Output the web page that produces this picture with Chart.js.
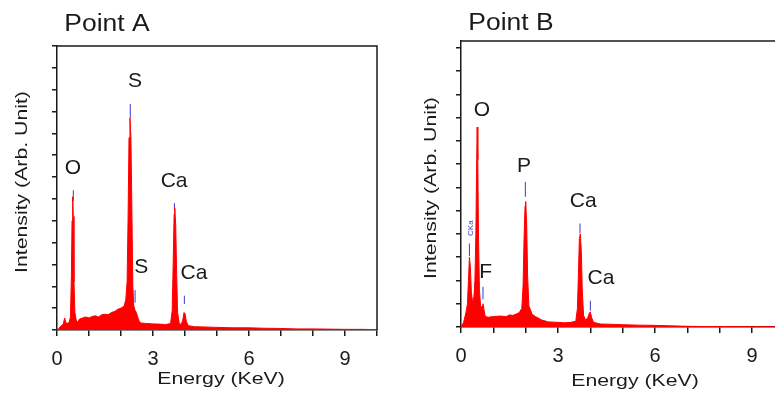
<!DOCTYPE html>
<html>
<head>
<meta charset="utf-8">
<script src="https://cdn.jsdelivr.net/npm/chart.js@4.4.0/dist/chart.umd.min.js"></script>
<style>
  html, body { margin: 0; padding: 0; background: #fff; overflow: hidden; }
  #wrap { position: relative; width: 775px; height: 394px; }
  #chartA { position: absolute; left: 0; top: 0; }
  #chartB { position: absolute; left: 390px; top: 0; }
</style>
</head>
<body>
<div id="wrap">
  <canvas id="chartA" width="390" height="394"></canvas>
  <canvas id="chartB" width="385" height="394"></canvas>
</div>
<script>
// Point A spectrum (energy in keV, intensity in arb. units)
const energyA = [0.00, 0.05, 0.10, 0.15, 0.20, 0.24, 0.27, 0.32, 0.38, 0.42, 0.45, 0.47, 0.49, 0.51, 0.53, 0.56, 0.60, 0.65, 0.70, 0.80, 0.90, 1.00, 1.10, 1.20, 1.30, 1.40, 1.50, 1.60, 1.70, 1.80, 1.90, 2.00, 2.10, 2.15, 2.19, 2.22, 2.25, 2.28, 2.31, 2.34, 2.37, 2.40, 2.44, 2.48, 2.52, 2.57, 2.62, 2.80, 3.00, 3.20, 3.40, 3.55, 3.60, 3.63, 3.66, 3.68, 3.71, 3.74, 3.77, 3.82, 3.88, 3.93, 3.97, 4.00, 4.04, 4.10, 4.30, 4.60, 5.00, 5.50, 6.00, 6.50, 7.00, 7.50, 8.00, 8.50, 9.00, 9.50, 10.00];
const intensityA = [0, 0.05, 0.15, 0.2, 0.3, 0.55, 0.35, 0.3, 0.35, 0.6, 2.5, 5.0, 6.1, 5.2, 2.2, 0.8, 0.45, 0.35, 0.5, 0.55, 0.6, 0.55, 0.62, 0.65, 0.6, 0.7, 0.72, 0.7, 0.8, 0.85, 0.95, 1.0, 1.1, 1.4, 2.2, 5.0, 8.8, 9.7, 8.8, 5.5, 2.0, 1.1, 0.9, 0.8, 0.6, 0.4, 0.32, 0.3, 0.28, 0.27, 0.25, 0.3, 0.9, 3.0, 5.3, 5.6, 4.8, 2.5, 0.8, 0.3, 0.25, 0.45, 0.8, 0.75, 0.4, 0.2, 0.15, 0.14, 0.12, 0.1, 0.1, 0.08, 0.07, 0.05, 0.05, 0.04, 0.03, 0.03, 0.02];

// Point B spectrum
const energyB = [0.00, 0.08, 0.15, 0.20, 0.23, 0.26, 0.29, 0.32, 0.36, 0.40, 0.43, 0.46, 0.48, 0.50, 0.52, 0.54, 0.57, 0.61, 0.65, 0.68, 0.71, 0.75, 0.85, 1.00, 1.20, 1.40, 1.50, 1.60, 1.70, 1.80, 1.88, 1.92, 1.95, 1.98, 2.00, 2.03, 2.06, 2.10, 2.20, 2.30, 2.50, 2.70, 3.00, 3.20, 3.40, 3.55, 3.60, 3.63, 3.66, 3.69, 3.72, 3.75, 3.79, 3.85, 3.92, 3.97, 4.00, 4.04, 4.10, 4.30, 4.60, 5.00, 5.50, 6.00, 6.50, 7.00, 7.50, 8.00, 9.00, 9.75];
const intensityB = [0, 0.2, 0.6, 1.0, 2.0, 3.0, 2.6, 1.5, 1.05, 1.3, 2.0, 4.0, 6.6, 8.6, 7.2, 4.0, 1.6, 0.8, 0.9, 1.0, 0.75, 0.45, 0.42, 0.45, 0.47, 0.45, 0.52, 0.5, 0.55, 0.62, 0.8, 1.8, 3.8, 5.2, 5.4, 4.5, 2.2, 0.9, 0.55, 0.45, 0.3, 0.22, 0.2, 0.18, 0.2, 0.25, 0.8, 2.2, 3.8, 4.0, 3.3, 1.6, 0.5, 0.3, 0.4, 0.6, 0.65, 0.4, 0.2, 0.13, 0.12, 0.1, 0.08, 0.07, 0.05, 0.03, 0.02, 0.02, 0.01, 0.01];

// blue element markers: energy, bottom, top
const markerEnergyA = [0.51, 2.29, 2.44, 3.67, 3.98];
const markerLowA = [5.9, 9.7, 1.25, 5.5, 1.19];
const markerHighA = [6.4, 10.35, 1.83, 5.8, 1.57];
const markerEnergyB = [0.26, 0.51, 0.68, 1.99, 3.68, 4.00];
const markerLowB = [3.05, 7.9, 1.19, 5.6, 4.02, 0.70];
const markerHighB = [3.59, 8.24, 1.73, 6.24, 4.45, 1.13];

// peak labels: text, energy, level
const peakTextA = ['O', 'S', 'Ca', 'S', 'Ca'];
const peakEnergyA = [0.5, 2.44, 3.66, 2.63, 4.28];
const peakLevelA = [7.42, 11.37, 6.8, 2.88, 2.6];
const peakTextB = ['O', 'P', 'Ca', 'Ca', 'F'];
const peakEnergyB = [0.65, 1.95, 3.78, 4.33, 0.76];
const peakLevelB = [9.31, 6.91, 5.43, 2.08, 2.34];

const xTickLabels = [0, 3, 6, 9];

const FONT = "'Liberation Sans', Arial, sans-serif";
const INK = '#1a1a1a';

function points(xs, ys) {
    return xs.map((x, i) => ({ x: x, y: ys[i] }));
}

function markerPoints(es, lo, hi) {
    const out = [];
    es.forEach((e, i) => {
        out.push({ x: e, y: lo[i] }, { x: e, y: hi[i] }, { x: e, y: null });
    });
    return out;
}

// one tick per whole unit across the axis range
function wholeTicks(s) {
    const ticks = [];
    for (let v = Math.ceil(s.min); v <= Math.floor(s.max); v++) ticks.push({ value: v });
    s.ticks = ticks;
}

function drawText(ctx, text, x, y, size, sx, rotate) {
    ctx.save();
    ctx.translate(x, y);
    if (rotate) ctx.rotate(-Math.PI / 2);
    ctx.scale(sx, 1);
    ctx.font = size + 'px ' + FONT;
    ctx.fillStyle = INK;
    ctx.textAlign = 'center';
    ctx.textBaseline = 'alphabetic';
    ctx.fillText(text, 0, 0);
    ctx.restore();
}

function decorPlugin(cfg) {
    return {
        id: 'decor',
        afterDraw(chart) {
            const ctx = chart.ctx;
            const a = chart.chartArea;
            const xs = chart.scales.x, ys = chart.scales.y;
            // frame lines not covered by the axes
            ctx.save();
            ctx.strokeStyle = INK;
            ctx.lineWidth = 1.5;
            ctx.beginPath();
            ctx.moveTo(a.left, a.top);
            ctx.lineTo(a.right, a.top);
            if (cfg.rightEdge) ctx.lineTo(a.right, a.bottom);
            ctx.stroke();
            ctx.restore();

            // titles
            drawText(ctx, cfg.title, cfg.titleX, cfg.titleY, 23, 1.15, false);
            drawText(ctx, 'Energy (KeV)', cfg.xTitleX, cfg.xTitleY, 17, 1.25, false);
            drawText(ctx, 'Intensity (Arb. Unit)', cfg.yTitleX, cfg.yTitleY, 17, 1.25, true);

            // peak labels
            ctx.save();
            ctx.font = '21px ' + FONT;
            ctx.fillStyle = INK;
            ctx.textAlign = 'center';
            ctx.textBaseline = 'middle';
            cfg.labels.forEach((t, i) => {
                ctx.fillText(t, xs.getPixelForValue(cfg.labelE[i]), ys.getPixelForValue(cfg.labelV[i]));
            });
            ctx.restore();

            if (cfg.extra) cfg.extra(ctx, xs, ys);
        }
    };
}

function makeChart(id, spectrum, markers, yMax, xMax, padding, yWidth, xHeight, plugin) {
    return new Chart(document.getElementById(id), {
        type: 'line',
        data: {
            datasets: [
                {
                    data: spectrum,
                    borderColor: '#ff0000',
                    backgroundColor: '#ff0000',
                    borderWidth: 1,
                    fill: 'origin',
                    pointRadius: 0,
                    tension: 0
                },
                {
                    data: markers,
                    borderColor: '#3a3ad0',
                    borderWidth: 1,
                    fill: false,
                    pointRadius: 0,
                    spanGaps: false
                }
            ]
        },
        options: {
            responsive: false,
            devicePixelRatio: 1,
            animation: false,
            layout: { padding: padding },
            plugins: { legend: { display: false }, tooltip: { enabled: false } },
            scales: {
                x: {
                    type: 'linear',
                    min: 0,
                    max: xMax,
                    afterBuildTicks: wholeTicks,
                    afterFit: (s) => { s.height = xHeight; },
                    ticks: {
                        padding: 11,
                        color: INK,
                        font: { family: FONT, size: 20 },
                        maxRotation: 0,
                        autoSkip: false,
                        callback: (v) => xTickLabels.includes(v) ? String(v) : ''
                    },
                    grid: { drawOnChartArea: false, tickLength: 6, color: INK, lineWidth: 1.5 },
                    border: { display: true, color: INK, width: 1.5 }
                },
                y: {
                    min: 0,
                    max: yMax,
                    afterBuildTicks: wholeTicks,
                    afterFit: (s) => { s.width = yWidth; },
                    ticks: { callback: () => '' },
                    grid: { drawOnChartArea: false, tickLength: 5, color: INK, lineWidth: 1.5 },
                    border: { display: true, color: INK, width: 1.5 }
                }
            }
        },
        plugins: [plugin]
    });
}

makeChart('chartA',
    points(energyA, intensityA),
    markerPoints(markerEnergyA, markerLowA, markerHighA),
    13, 10,
    { top: 46, right: 13, bottom: 0, left: 0 }, 57, 64,
    decorPlugin({
        title: 'Point A', titleX: 107, titleY: 31,
        xTitleX: 221, xTitleY: 384,
        yTitleX: 27, yTitleY: 182,
        rightEdge: true,
        labels: peakTextA, labelE: peakEnergyA, labelV: peakLevelA
    }));

makeChart('chartB',
    points(energyB, intensityB),
    markerPoints(markerEnergyB, markerLowB, markerHighB),
    12.3, 9.71,
    { top: 41, right: 0, bottom: 0, left: 0 }, 71, 67,
    decorPlugin({
        title: 'Point B', titleX: 121, titleY: 30,
        xTitleX: 245, xTitleY: 386,
        yTitleX: 46, yTitleY: 188,
        rightEdge: false,
        labels: peakTextB, labelE: peakEnergyB, labelV: peakLevelB,
        extra: (ctx, xs, ys) => {
            // small rotated carbon line label
            ctx.save();
            ctx.translate(xs.getPixelForValue(0.31), ys.getPixelForValue(4.25));
            ctx.rotate(-Math.PI / 2);
            ctx.font = '8px ' + FONT;
            ctx.fillStyle = '#3a3ad0';
            ctx.textAlign = 'center';
            ctx.textBaseline = 'middle';
            ctx.fillText('CKa', 0, 0);
            ctx.restore();
        }
    }));
</script>
</body>
</html>
